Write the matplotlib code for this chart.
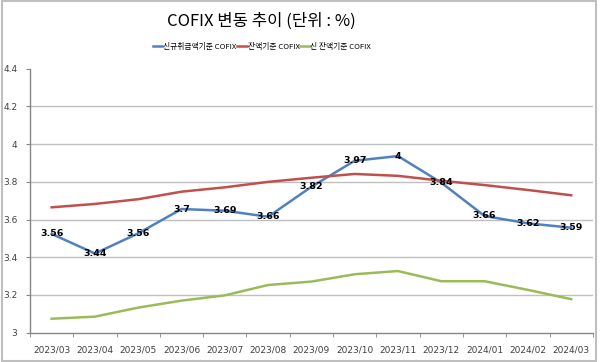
import numpy as np
import matplotlib.pyplot as plt
from matplotlib.patches import Rectangle

plt.rcParams['font.family'] = ['Noto Sans CJK KR', 'DejaVu Sans']

# ---------------------------------------------------------------------------
# данные
# ---------------------------------------------------------------------------
months = ["2023/03", "2023/04", "2023/05", "2023/06", "2023/07", "2023/08", "2023/09",
          "2023/10", "2023/11", "2023/12", "2024/01", "2024/02", "2024/03"]
new_cofix = [3.524, 3.42, 3.527, 3.656, 3.647, 3.615, 3.774, 3.912, 3.937, 3.796,
             3.619, 3.58, 3.557]
new_labels = ["3.56", "3.44", "3.56", "3.7", "3.69", "3.66", "3.82", "3.97", "4",
              "3.84", "3.66", "3.62", "3.59"]
bal_cofix = [3.665, 3.683, 3.708, 3.748, 3.771, 3.80, 3.822, 3.842, 3.832, 3.806,
             3.783, 3.757, 3.729]
new_bal_cofix = [3.074, 3.085, 3.133, 3.170, 3.198, 3.253, 3.271, 3.31, 3.327, 3.273,
                 3.273, 3.227, 3.178]
series_names = ["신규취급액기준 COFIX", "잔액기준 COFIX", "신 잔액기준 COFIX"]
yticks = [3, 3.2, 3.4, 3.6, 3.8, 4, 4.2, 4.4]

colors = ["#4F81BD", "#C0504D", "#9BBB59"]

fig = plt.figure(figsize=(6, 3.62), dpi=100)
ax = fig.add_axes([0.05, 0.081, 0.938, 0.729])

x = np.arange(len(months))
ax.plot(x, new_cofix, color=colors[0], lw=1.8, label=series_names[0], zorder=3)
ax.plot(x, bal_cofix, color=colors[1], lw=1.8, label=series_names[1], zorder=3)
ax.plot(x, new_bal_cofix, color=colors[2], lw=1.8, label=series_names[2], zorder=3)

for xi, yi, lab in zip(x, new_cofix, new_labels):
    ax.text(xi, yi, lab, ha="center", va="center", fontsize=6.8, fontweight="bold",
            color="black", family=["DejaVu Sans"], zorder=4)

# --- оси -------------------------------------------------------------------
ax.set_xlim(-0.5, len(months) - 0.5)
ax.set_ylim(3, 4.4)
ax.set_yticks(yticks)
ax.set_yticklabels([f"{v:g}" for v in yticks], fontsize=6.5, color="#404040",
                   family=["DejaVu Sans"])
for v in yticks[1:-1]:
    ax.axhline(v, color="#BFBFBF", lw=1, zorder=1)

ax.set_xticks(x)
ax.set_xticklabels(months, fontsize=6.5, color="#404040", family=["DejaVu Sans"])
ax.tick_params(axis="x", length=0, pad=9)
ax.set_xticks(np.arange(len(months) + 1) - 0.5, minor=True)
ax.tick_params(axis="x", which="minor", length=3, color="#868686", direction="out")
ax.tick_params(axis="y", length=3, color="#868686", direction="out", pad=6)

for s in ["top", "right"]:
    ax.spines[s].set_visible(False)
for s in ["left", "bottom"]:
    ax.spines[s].set_color("#868686")
    ax.spines[s].set_linewidth(1)

# --- заголовок и легенда ----------------------------------------------------
fig.text(0.435, 0.94, "COFIX 변동 추이 (단위 : %)", ha="center", va="center",
         fontsize=12, color="black")
fig.legend(loc="center", bbox_to_anchor=(0.437, 0.87), ncol=3, frameon=False,
           fontsize=5.6, handlelength=1.2, handletextpad=0.1, columnspacing=0.1,
           borderaxespad=0)

# рамка вокруг всей диаграммы
fig.patches.append(Rectangle((0.004, 0.004), 0.99, 0.992, transform=fig.transFigure,
                             fill=False, edgecolor="#BFBFBF", lw=1.5))

plt.savefig("out.png", dpi=100)
